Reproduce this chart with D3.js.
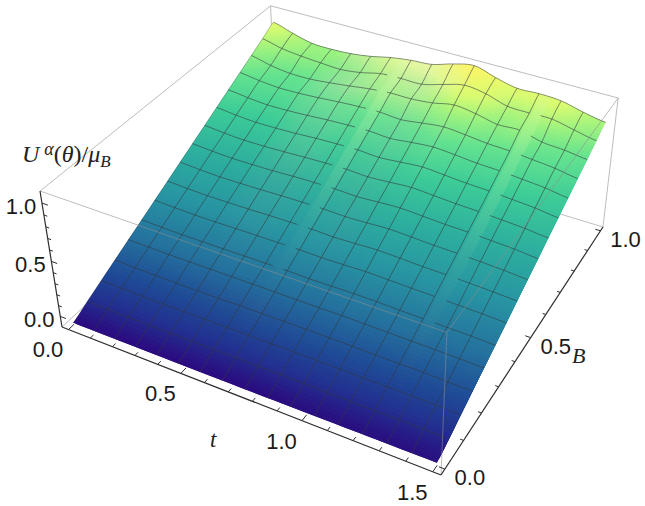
<!DOCTYPE html>
<html>
<head>
<meta charset="utf-8">
<script src="https://cdn.jsdelivr.net/npm/d3@7/dist/d3.min.js"></script>
<style>
  html, body { margin: 0; background: #fff; }
  svg { display: block; }
  .tick-label { font-family: "Liberation Sans", Arial, sans-serif; font-size: 22px; fill: #1a1a1a; text-anchor: middle; }
  .axis-title { font-family: "Liberation Serif", "Times New Roman", serif; font-style: italic; fill: #222; }
</style>
</head>
<body>
<svg id="chart" width="645" height="506"></svg>
<script>
// Axis ticks
const tMajor = [0, 0.5, 1, 1.5];
const bMajor = [0, 0.5, 1];
const zMajor = [0, 0.5, 1];
const tMinor = [0.1, 0.2, 0.3, 0.4, 0.6, 0.7, 0.8, 0.9, 1.1, 1.2, 1.3, 1.4];
const bMinor = [0.1, 0.2, 0.3, 0.4, 0.6, 0.7, 0.8, 0.9];
const zMinor = [0.1, 0.2, 0.3, 0.4, 0.6, 0.7, 0.8, 0.9];

// Plot ranges of the box
const tRange = [-0.03, 1.53];
const bRange = [-0.02, 1.02];
const zRange = [-0.1, 1.1];

// U(theta)/mu_B: one row per B node, from B = 0 to B = 1, one column per t node
const heightRows = [
  [-.080,-.080,-.080,-.080,-.080,-.080,-.080,-.079,-.079,-.078,-.077,-.076,-.075,-.074,-.073,-.072,-.070],
  [-.013,-.015,-.016,-.016,-.016,-.016,-.015,-.015,-.015,-.014,-.013,-.015,-.016,-.016,-.016,-.017,-.019],
  [.054,.051,.048,.048,.049,.050,.050,.051,.051,.052,.052,.051,.050,.050,.050,.048,.043],
  [.121,.116,.112,.111,.111,.112,.115,.116,.117,.119,.118,.116,.113,.113,.112,.107,.104],
  [.188,.185,.182,.182,.182,.183,.183,.182,.181,.181,.183,.180,.178,.176,.173,.170,.165],
  [.254,.249,.245,.246,.246,.248,.248,.249,.245,.247,.250,.248,.243,.240,.236,.233,.226],
  [.321,.315,.310,.310,.312,.314,.315,.316,.312,.315,.320,.316,.310,.307,.301,.296,.287],
  [.388,.380,.374,.375,.376,.381,.383,.384,.378,.384,.391,.385,.377,.374,.367,.360,.349],
  [.455,.445,.438,.439,.442,.447,.450,.451,.446,.452,.461,.454,.445,.440,.433,.424,.410],
  [.522,.510,.502,.503,.506,.514,.518,.520,.513,.524,.533,.524,.514,.509,.499,.489,.471],
  [.589,.574,.565,.566,.572,.580,.586,.588,.580,.592,.605,.594,.583,.576,.565,.553,.533],
  [.656,.639,.628,.630,.637,.648,.655,.658,.648,.664,.679,.667,.653,.646,.632,.618,.594],
  [.723,.703,.690,.693,.702,.715,.723,.727,.716,.736,.752,.740,.723,.715,.700,.683,.655],
  [.789,.766,.752,.755,.766,.781,.792,.797,.784,.808,.829,.814,.794,.785,.767,.748,.716],
  [.856,.814,.791,.791,.808,.831,.856,.872,.872,.890,.925,.902,.861,.866,.817,.802,.777],
  [.923,.881,.860,.847,.838,.860,.901,.909,.909,.959,1.005,.981,.924,.918,.919,.878,.839],
  [.990,.934,.889,.883,.892,.917,.956,.981,.995,1.050,1.085,1.030,.987,.992,.981,.935,.900]
];

// Spacing of the surface nodes along t
const tStep = 0.09375;

// Narrow raised strips running along B
const ridgeCentres = [0.63, 1.25];
const ridgeHalfWidth = 0.022;

// Height colour ramp
const colourHeights = [-0.08, 0.0, 0.08, 0.2, 0.35, 0.5, 0.65, 0.78, 0.88, 0.97, 1.09];
const colourValues = ["#2b0b80", "#233090", "#1f4a96", "#25729e", "#2896a2", "#2eb09e", "#3dcc98", "#63e290", "#9bf280", "#d8fb72", "#fff566"];

const svg = d3.select("#chart");

// Camera: screen position of the box corners, with homogeneous weights for the three axes
const corner = { origin: [62, 327], tEnd: [441, 475], bEnd: [276, 128], zEnd: [40, 191] };
const weight = { t: 0.888, b: 1.2146, z: 0.933 };

function project3(u, v, w) {
  const rest = 1 - u - v - w;
  const d = rest + u * weight.t + v * weight.b + w * weight.z;
  const x = rest * corner.origin[0] + u * weight.t * corner.tEnd[0] + v * weight.b * corner.bEnd[0] + w * weight.z * corner.zEnd[0];
  const y = rest * corner.origin[1] + u * weight.t * corner.tEnd[1] + v * weight.b * corner.bEnd[1] + w * weight.z * corner.zEnd[1];
  return [x / d, y / d];
}

const tScale = d3.scaleLinear().domain(tRange).range([0, 1]);
const bScale = d3.scaleLinear().domain(bRange).range([0, 1]);
const zScale = d3.scaleLinear().domain(zRange).range([0, 1]);
const colour = d3.scaleLinear().domain(colourHeights).range(colourValues).clamp(true);
const project = (t, b, z) => project3(tScale(t), bScale(b), zScale(z));

const line = d3.line();
const boxPath = (a, b) => line([project3(...a), project3(...b)]);

// Smooth evaluation of the height table between nodes
function cubic(p0, p1, p2, p3, s) {
  return 0.5 * (2 * p1 + (p2 - p0) * s + (2 * p0 - 5 * p1 + 4 * p2 - p3) * s * s + (3 * p1 - p0 - 3 * p2 + p3) * s * s * s);
}
const nodeAt = (i, j) => heightRows[Math.max(0, Math.min(16, i))][Math.max(0, Math.min(16, j))];
function heightAt(ri, rj) {
  const i = Math.min(15, Math.floor(ri)), j = Math.min(15, Math.floor(rj));
  const si = ri - i, sj = rj - j;
  const across = [-1, 0, 1, 2].map(di =>
    cubic(nodeAt(i + di, j - 1), nodeAt(i + di, j), nodeAt(i + di, j + 1), nodeAt(i + di, j + 2), sj));
  return cubic(across[0], across[1], across[2], across[3], si);
}

// Box edges that sit behind the surface
const behind = svg.append("g").attr("fill", "none").attr("stroke", "#bdbdbd").attr("stroke-width", 1);
[
  [[0, 0, 1], [0, 1, 1]], [[0, 1, 1], [1, 1, 1]], [[0, 1, 1], [0, 1, 0]],
  [[1, 1, 1], [1, 1, 0]], [[0, 0, 0], [0, 1, 0]], [[0, 1, 0], [1, 1, 0]]
].forEach(e => behind.append("path").attr("d", boxPath(e[0], e[1])));

// Surface patches, shaded by the slope along t. Each one reaches over its
// neighbours and is then covered by them, which leaves no seams between patches.
const steps = 6;
const count = 16 * steps;
const fineIndex = d3.range(count + 1);
const fine = fineIndex.map(a => fineIndex.map(b => {
  const ri = a / steps, rj = b / steps;
  const z = heightAt(ri, rj);
  const t = rj * tStep, bv = ri / 16;
  return { t, b: bv, z, p: project(t, bv, z) };
}));

// Slope along t, averaged over a wide stencil so the shading stays soft
function slopeAt(a, b) {
  const lo = Math.max(0, b - 2 * steps), hi = Math.min(count, b + 2 * steps);
  return (fine[a][hi].z - fine[a][lo].z) / (fine[a][hi].t - fine[a][lo].t);
}

const patches = [];
for (let a = 0; a < count; a++) {
  for (let b = 0; b < count; b++) {
    const c = fine[a][b], n = fine[a][b + 1], m = fine[a + 1][b], d = fine[a + 1][b + 1];
    const aFar = Math.min(count, a + 2), bFar = Math.min(count, b + 2);
    const meanZ = (c.z + n.z + m.z + d.z) / 4;
    const slope = slopeAt(a, b);
    const base = d3.lab(colour(meanZ));
    // Slopes rising towards larger t face away from the light
    const darkening = 62 * Math.max(-0.2, Math.min(0.45, slope));
    base.L -= darkening;
    if (darkening > 0) {
      base.a *= 1 - darkening / 60;
      base.b *= 1 - darkening / 60;
    }
    patches.push({
      pts: [c.p, fine[a][bFar].p, fine[aFar][bFar].p, fine[aFar][b].p],
      fill: base.formatHex()
    });
  }
}
svg.append("g").selectAll("path").data(patches).join("path")
  .attr("d", d => line(d.pts) + "Z")
  .attr("fill", d => d.fill);

// Lighter strips laid along the surface
const glow = d3.scaleLinear().domain([0.08, 0.45, 0.62, 1]).range([0, 0.04, 0.12, 0.24]).clamp(true);
const stripRows = [];
ridgeCentres.forEach(centre => {
  const left = (centre - ridgeHalfWidth) / tStep, right = (centre + ridgeHalfWidth) / tStep;
  const pt = (ri, rj) => project(rj * tStep, ri / 16, heightAt(ri, rj));
  for (let a = 0; a < count; a++) {
    const ra = a / steps, rb = (a + 1) / steps;
    stripRows.push({
      pts: [pt(ra, left), pt(ra, right), pt(rb, right), pt(rb, left)],
      o: glow(ra / 16)
    });
  }
});
svg.append("g").selectAll("path").data(stripRows).join("path")
  .attr("d", d => line(d.pts) + "Z")
  .attr("fill", "#d8ffb0")
  .attr("fill-opacity", d => d.o);

// Mesh lines; the constant-B lines break where they meet a strip
const mesh = svg.append("g").attr("fill", "none").attr("stroke", "rgba(52,56,62,0.62)").attr("stroke-width", 0.95);
const inRidge = t => ridgeCentres.some(c => t > c - ridgeHalfWidth * 1.05 && t < c + ridgeHalfWidth * 0.35);
const brokenLine = d3.line().x(d => d.p[0]).y(d => d.p[1]).defined(d => !(d.b > 0.3 && inRidge(d.t)));
const plainLine = d3.line().x(d => d.p[0]).y(d => d.p[1]);
d3.range(1, 16).forEach(k => {
  mesh.append("path").attr("d", brokenLine(fine[k * steps]));
  mesh.append("path").attr("d", plainLine(fineIndex.map(a => fine[a][k * steps])));
});
// Surface outline at the far side and left side
mesh.append("path").attr("d", plainLine(fine[count])).attr("stroke-opacity", 0.9);
mesh.append("path").attr("d", plainLine(fineIndex.map(a => fine[a][0]))).attr("stroke-opacity", 0.5);

// Box edges in front of the surface
const front = svg.append("g").attr("fill", "none").attr("stroke", "rgba(142,142,142,0.58)").attr("stroke-width", 1);
[
  [[0, 0, 1], [1, 0, 1]], [[1, 0, 1], [1, 1, 1]], [[1, 0, 1], [1, 0, 0]]
].forEach(e => front.append("path").attr("d", boxPath(e[0], e[1])));

// Axis frame lines
const axes = svg.append("g").attr("fill", "none").attr("stroke", "#2e2e2e").attr("stroke-width", 1.2);
[
  [[0, 0, 0], [0, 0, 1]], [[0, 0, 0], [1, 0, 0]], [[1, 0, 0], [1, 1, 0]]
].forEach(e => axes.append("path").attr("d", boxPath(e[0], e[1])));

// Ticks
const tickLayer = svg.append("g").attr("fill", "none").attr("stroke", "#2e2e2e").attr("stroke-width", 1);
const zBase = zRange[0], bBase = bRange[0], tBase = tRange[0], tTop = tRange[1];
function tickSet(values, size, start, end) {
  values.forEach(v => tickLayer.append("path").attr("d", line([start(v), end(v, size)])));
}
tickSet(tMajor, 0.022, v => project(v, bBase, zBase), (v, s) => project(v, bBase + s, zBase));
tickSet(tMinor, 0.013, v => project(v, bBase, zBase), (v, s) => project(v, bBase + s, zBase));
tickSet(bMajor, 0.022, v => project(tTop, v, zBase), (v, s) => project(tTop - s, v, zBase));
tickSet(bMinor, 0.013, v => project(tTop, v, zBase), (v, s) => project(tTop - s, v, zBase));
tickSet(zMajor, 0.026, v => project(tBase, bBase, v), (v, s) => project(tBase + s, bBase, v));
tickSet(zMinor, 0.015, v => project(tBase, bBase, v), (v, s) => project(tBase + s, bBase, v));

// Tick labels
const labels = svg.append("g");
function tickLabels(values, anchor, dx, dy) {
  labels.selectAll(null).data(values).join("text")
    .attr("class", "tick-label")
    .attr("x", d => anchor(d)[0] + dx)
    .attr("y", d => anchor(d)[1] + dy)
    .attr("dy", "0.36em")
    .text(d => d.toFixed(1));
}
tickLabels(tMajor, v => project(v, bBase, zBase), -20.5, 20);
tickLabels(bMajor, v => project(tTop, v, zBase), 25, 8);
tickLabels(zMajor, v => project(tBase, bBase, v), -21, 3);

// Axis titles
svg.append("text").attr("class", "axis-title").attr("x", 210).attr("y", 447).attr("font-size", 23).text("t");
svg.append("text").attr("class", "axis-title").attr("x", 572).attr("y", 363).attr("font-size", 22).text("B");
const zTitle = svg.append("text").attr("class", "axis-title").attr("x", 22).attr("y", 162).attr("font-size", 24);
zTitle.append("tspan").text("U");
zTitle.append("tspan").attr("dx", 5).attr("dy", -7).attr("font-size", 18).text("\u03b1");
zTitle.append("tspan").attr("dy", 7).style("font-style", "normal").text("(");
zTitle.append("tspan").text("\u03b8");
zTitle.append("tspan").style("font-style", "normal").text(")/");
zTitle.append("tspan").text("\u03bc");
zTitle.append("tspan").attr("dy", 5).attr("font-size", 17).text("B");
</script>
</body>
</html>
